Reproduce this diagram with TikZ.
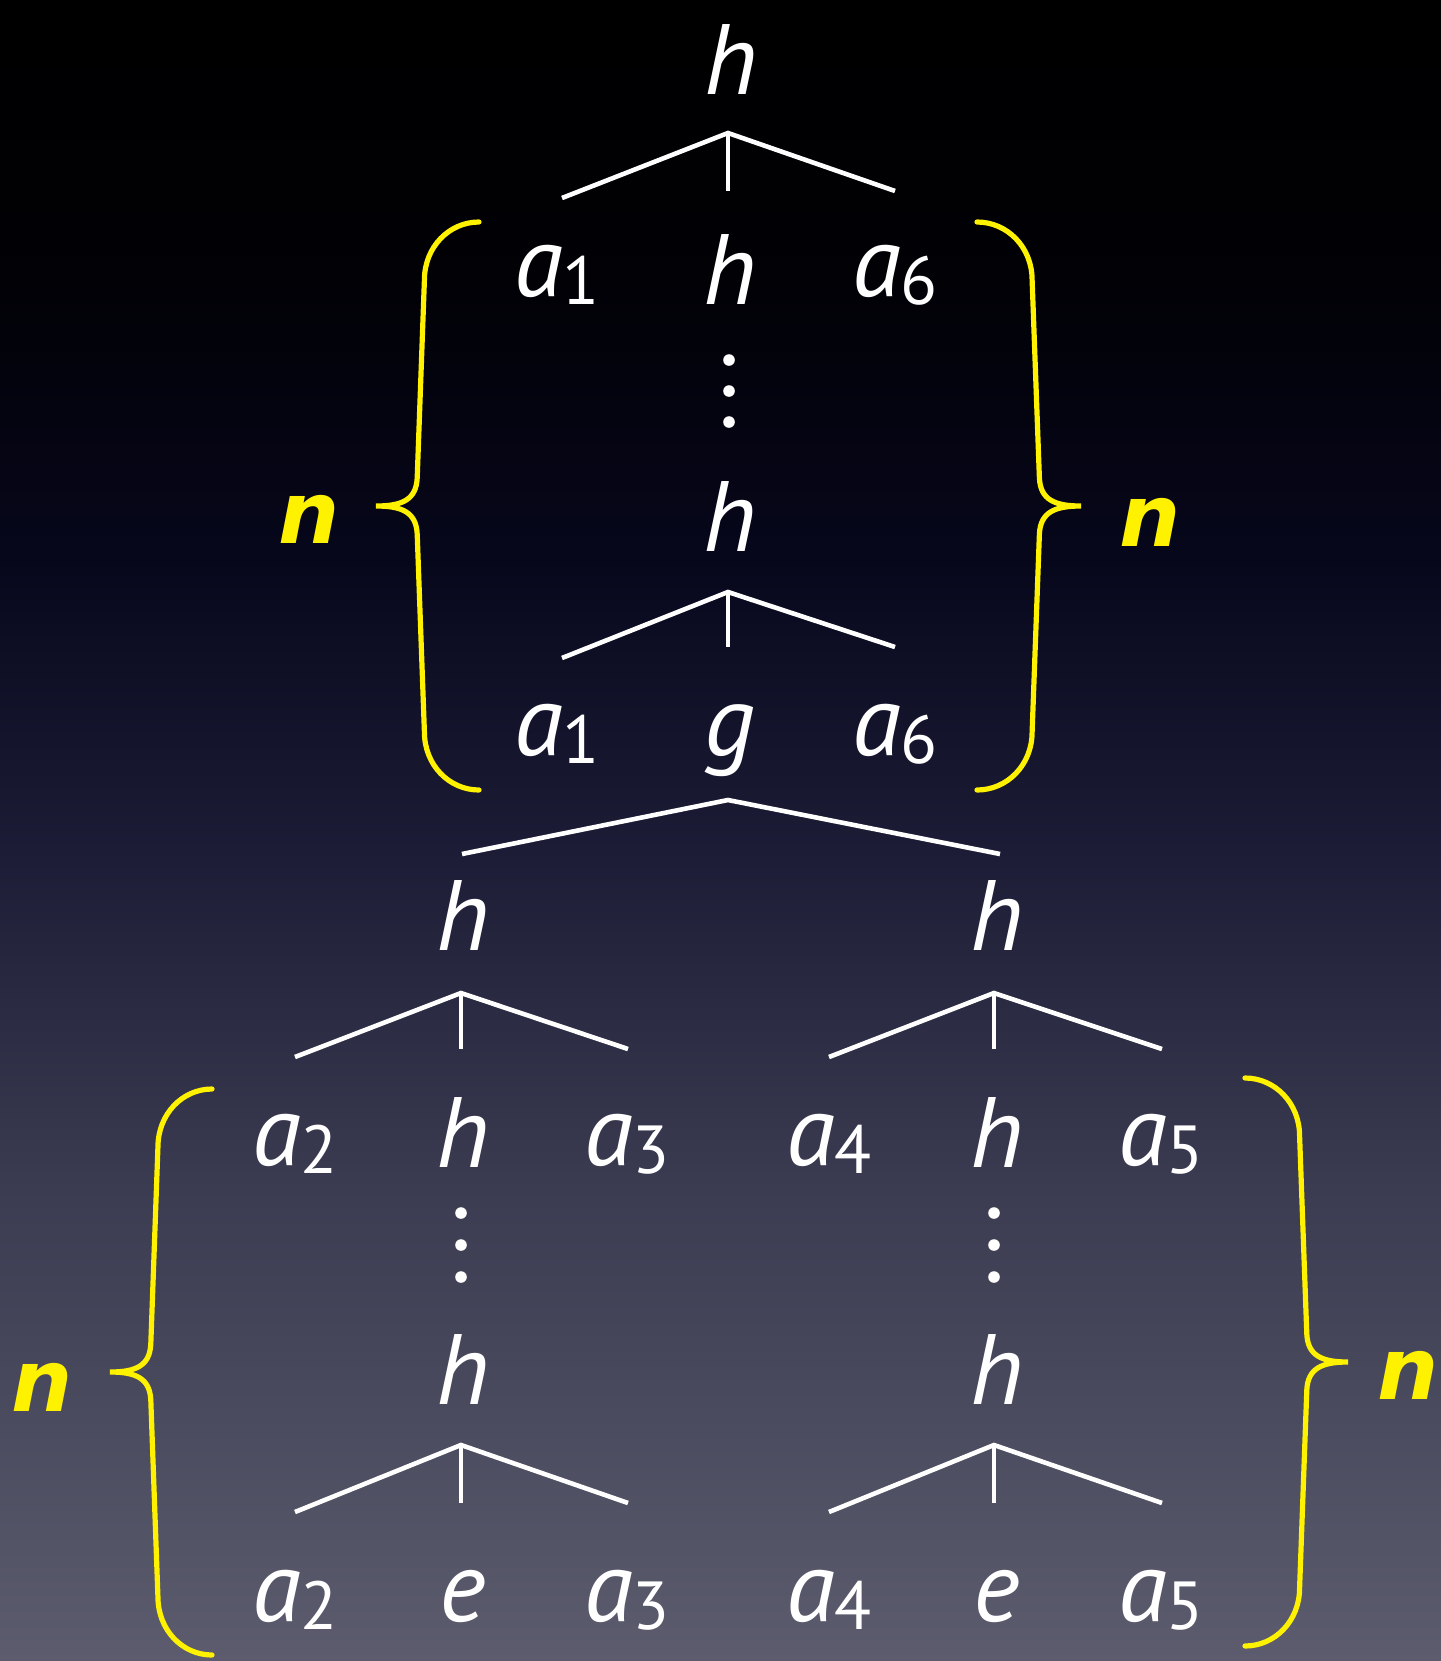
\documentclass[tikz,border=0pt]{standalone}
\usepackage{fontspec}
\newfontfamily\ptfont{PT Sans}
\newfontfamily\djfont{DejaVu Sans}
\definecolor{bga}{HTML}{000000}
\definecolor{bgb}{HTML}{010106}
\definecolor{bgc}{HTML}{07071C}
\definecolor{bgd}{HTML}{1C1C36}
\definecolor{bge}{HTML}{3C3C52}
\definecolor{bgf}{HTML}{5C5C6E}
\pgfdeclareverticalshading{bgshade}{100bp}{color(0bp)=(bgf); color(25bp)=(bgf); color(38.88bp)=(bge); color(49.41bp)=(bgd); color(58.14bp)=(bgc); color(66.57bp)=(bgb); color(75bp)=(bga); color(100bp)=(bga)}
\newcommand{\treefont}{\ptfont\itshape\fontsize{50}{60}\selectfont}
\newcommand{\nfont}{\djfont\bfseries\itshape\fontsize{43}{52}\selectfont}
\newcommand{\sbd}[1]{\raisebox{-0.08em}{\upshape\fontsize{34}{40}\selectfont #1}}
\newcommand{\ybrace}[4]{%
 \draw[bracestyle] (#1,#2)
 .. controls ({#1-0.29*(#1-#4)},#2) and ({#1-0.53*(#1-#4)},{#2+25}) .. ({#1-0.53*(#1-#4)},{#2+58})
 -- ({#1-0.6*(#1-#4)},{(#2+#3)/2-28})
 .. controls ({#1-0.61*(#1-#4)},{(#2+#3)/2-6}) and ({#1-0.75*(#1-#4)},{(#2+#3)/2}) .. (#4,{(#2+#3)/2})
 .. controls ({#1-0.75*(#1-#4)},{(#2+#3)/2}) and ({#1-0.61*(#1-#4)},{(#2+#3)/2+6}) .. ({#1-0.6*(#1-#4)},{(#2+#3)/2+28})
 -- ({#1-0.53*(#1-#4)},{#3-58})
 .. controls ({#1-0.53*(#1-#4)},{#3-25}) and ({#1-0.29*(#1-#4)},#3) .. (#1,#3);}
\tikzset{
 lab/.style={text=white, font=\treefont, anchor=base, inner sep=0pt},
 nlab/.style={text=yellow, font=\nfont, anchor=base, inner sep=0pt},
 edge/.style={draw=white, line width=2.3pt},
 bracestyle/.style={draw=yellow, line width=2.6pt, line cap=round},
 dotn/.style={circle, fill=white, inner sep=0pt, minimum size=5.8pt}
}
\begin{document}
\begin{tikzpicture}[x=0.5pt,y=-0.5pt]
\useasboundingbox (0,0) rectangle (1441,1661);
\shade[shading=bgshade] (0,0) rectangle (1441,1661);

% upper part
\node[lab] (r0h) at (731,94) {h};
\coordinate (aA) at (728,133);
\coordinate (aL) at (562,198);
\coordinate (aM) at (728,191);
\coordinate (aR) at (895,191);
\draw[edge] (aL) -- (aA) -- (aR);
\draw[edge] (aA) -- (aM);
\node[lab] (r1a) at (557,296) {a\sbd{1}};
\node[lab] (r1h) at (730,304) {h};
\node[lab] (r1b) at (895,296) {a\sbd{6}};
\node[dotn] (u1) at (729,360) {};
\node[dotn] (u2) at (729,391) {};
\node[dotn] (u3) at (729,422) {};
\node[lab] (r2h) at (730,551) {h};
\coordinate (bA) at (728,592);
\coordinate (bL) at (562,658);
\coordinate (bM) at (728,647);
\coordinate (bR) at (895,647);
\draw[edge] (bL) -- (bA) -- (bR);
\draw[edge] (bA) -- (bM);
\node[lab] (r3a) at (557,755) {a\sbd{1}};
\node[lab] (r3g) at (730,755) {g};
\node[lab] (r3b) at (895,755) {a\sbd{6}};
\coordinate (cA) at (728,800);
\coordinate (cL) at (462,854);
\coordinate (cR) at (1000,854);
\draw[edge] (cL) -- (cA) -- (cR);

% lower part
\node[lab] (r4l) at (463,950) {h};
\node[lab] (r4r) at (997,950) {h};
\coordinate (dA) at (461,993);
\coordinate (dL) at (295,1057);
\coordinate (dM) at (461,1049);
\coordinate (dR) at (628,1049);
\draw[edge] (dL) -- (dA) -- (dR);
\draw[edge] (dA) -- (dM);
\coordinate (eA) at (994,993);
\coordinate (eL) at (829,1057);
\coordinate (eM) at (994,1049);
\coordinate (eR) at (1162,1049);
\draw[edge] (eL) -- (eA) -- (eR);
\draw[edge] (eA) -- (eM);
\node[lab] (r5a) at (295,1165) {a\sbd{2}};
\node[lab] (r5h) at (463,1167) {h};
\node[lab] (r5b) at (627,1165) {a\sbd{3}};
\node[lab] (r5c) at (829,1165) {a\sbd{4}};
\node[lab] (r5k) at (997,1167) {h};
\node[lab] (r5d) at (1161,1165) {a\sbd{5}};
\node[dotn] (v1) at (461,1213) {};
\node[dotn] (v2) at (461,1245) {};
\node[dotn] (v3) at (461,1277) {};
\node[dotn] (w1) at (994,1213) {};
\node[dotn] (w2) at (994,1245) {};
\node[dotn] (w3) at (994,1277) {};
\node[lab] (r6l) at (463,1404) {h};
\node[lab] (r6r) at (997,1404) {h};
\coordinate (fA) at (461,1445);
\coordinate (fL) at (295,1512);
\coordinate (fM) at (461,1503);
\coordinate (fR) at (628,1503);
\draw[edge] (fL) -- (fA) -- (fR);
\draw[edge] (fA) -- (fM);
\coordinate (gA) at (994,1445);
\coordinate (gL) at (829,1512);
\coordinate (gM) at (994,1503);
\coordinate (gR) at (1162,1503);
\draw[edge] (gL) -- (gA) -- (gR);
\draw[edge] (gA) -- (gM);
\node[lab] (r7a) at (295,1621) {a\sbd{2}};
\node[lab] (r7e) at (463,1621) {e};
\node[lab] (r7b) at (627,1621) {a\sbd{3}};
\node[lab] (r7c) at (829,1621) {a\sbd{4}};
\node[lab] (r7f) at (997,1621) {e};
\node[lab] (r7d) at (1161,1621) {a\sbd{5}};

% braces
\ybrace{479}{222}{790}{376}
\ybrace{977}{222}{790}{1081}
\ybrace{212}{1089}{1655}{110}
\ybrace{1245}{1078}{1646}{1348}
\node[nlab] (n1) at (309,543) {n};
\node[nlab] (n2) at (1150,546) {n};
\node[nlab] (n3) at (42,1411) {n};
\node[nlab] (n4) at (1408,1399) {n};
\end{tikzpicture}
\end{document}
